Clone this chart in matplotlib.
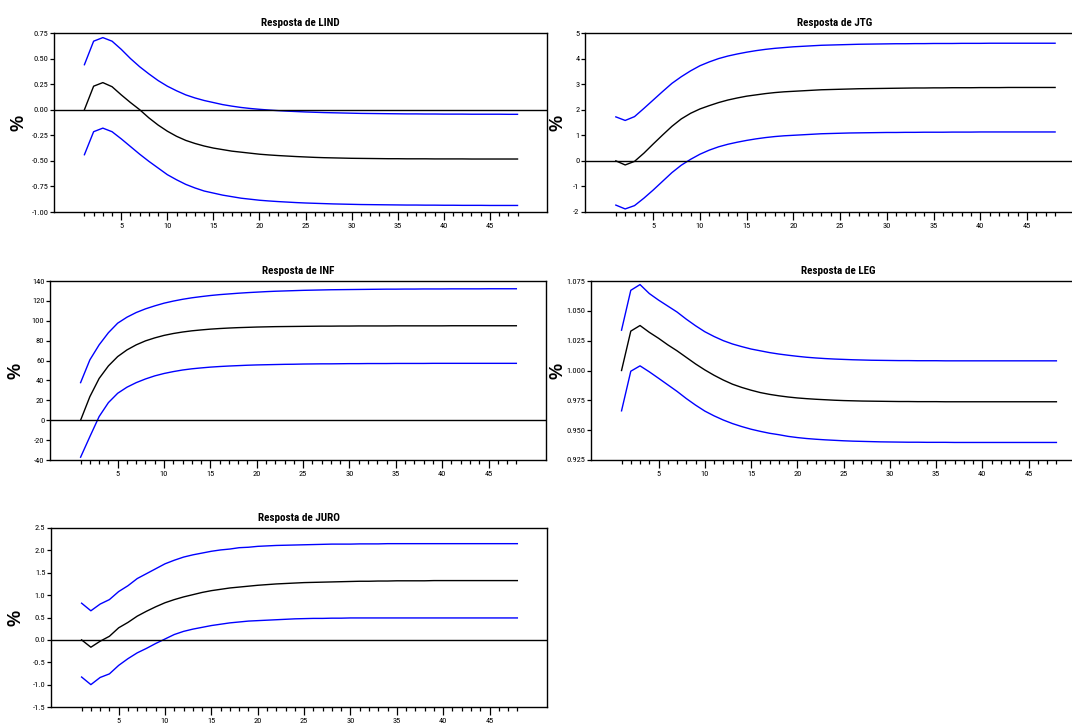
import numpy as np
import matplotlib
matplotlib.use('Agg')
import matplotlib.pyplot as plt
from matplotlib import font_manager
from matplotlib.ticker import MultipleLocator, FixedLocator, FormatStrFormatter

# fonte estreita, se existir
nomes = {f.name for f in font_manager.fontManager.ttflist}
estreitas = [n for n in ['Liberation Sans Narrow', 'DejaVu Sans Condensed', 'Roboto Condensed',
                         'Open Sans Condensed', 'Noto Sans Condensed'] if n in nomes]
plt.rcParams['font.family'] = estreitas + ['Liberation Sans', 'DejaVu Sans']

periodos = np.arange(1, 49)

# --- Resposta de LIND ---
lind_resp = [0.00, 0.23, 0.265, 0.225, 0.145, 0.07, 0.00, -0.08, -0.15, -0.21,
             -0.26, -0.30, -0.33, -0.355, -0.375, -0.39, -0.405, -0.415, -0.425, -0.435,
             -0.442, -0.448, -0.453, -0.458, -0.462, -0.466, -0.469, -0.471, -0.473, -0.475,
             -0.476, -0.477, -0.478, -0.479, -0.479, -0.480, -0.480, -0.480, -0.481, -0.481,
             -0.481, -0.481, -0.482, -0.482, -0.482, -0.482, -0.482, -0.482]
lind_sup = [0.44, 0.67, 0.705, 0.67, 0.59, 0.50, 0.42, 0.35, 0.285, 0.23,
            0.185, 0.145, 0.115, 0.09, 0.07, 0.05, 0.035, 0.022, 0.012, 0.004,
            -0.003, -0.009, -0.014, -0.018, -0.022, -0.025, -0.028, -0.030, -0.032, -0.034,
            -0.036, -0.037, -0.038, -0.039, -0.040, -0.041, -0.041, -0.042, -0.042, -0.043,
            -0.043, -0.043, -0.044, -0.044, -0.044, -0.044, -0.045, -0.045]
lind_inf = [-0.44, -0.215, -0.18, -0.215, -0.285, -0.36, -0.435, -0.505, -0.57, -0.635,
            -0.685, -0.73, -0.765, -0.795, -0.815, -0.835, -0.85, -0.865, -0.875, -0.885,
            -0.892, -0.898, -0.903, -0.908, -0.912, -0.915, -0.918, -0.921, -0.923, -0.925,
            -0.927, -0.928, -0.929, -0.930, -0.931, -0.932, -0.932, -0.933, -0.933, -0.934,
            -0.934, -0.935, -0.935, -0.935, -0.936, -0.936, -0.936, -0.936]

# --- Resposta de JTG ---
jtg_resp = [0.00, -0.16, -0.02, 0.30, 0.66, 1.01, 1.35, 1.64, 1.86, 2.03,
            2.16, 2.28, 2.38, 2.46, 2.53, 2.58, 2.63, 2.67, 2.70, 2.72,
            2.74, 2.76, 2.78, 2.79, 2.80, 2.81, 2.82, 2.825, 2.83, 2.835,
            2.84, 2.845, 2.85, 2.85, 2.855, 2.855, 2.86, 2.86, 2.86, 2.865,
            2.865, 2.865, 2.87, 2.87, 2.87, 2.87, 2.87, 2.87]
jtg_sup = [1.72, 1.58, 1.73, 2.05, 2.38, 2.71, 3.03, 3.29, 3.52, 3.72,
           3.87, 4.00, 4.10, 4.18, 4.25, 4.31, 4.36, 4.40, 4.43, 4.46,
           4.48, 4.50, 4.52, 4.53, 4.54, 4.55, 4.56, 4.565, 4.57, 4.575,
           4.58, 4.58, 4.585, 4.585, 4.59, 4.59, 4.59, 4.595, 4.595, 4.595,
           4.60, 4.60, 4.60, 4.60, 4.60, 4.60, 4.60, 4.60]
jtg_inf = [-1.73, -1.88, -1.75, -1.46, -1.14, -0.80, -0.46, -0.17, 0.06, 0.26,
           0.42, 0.55, 0.65, 0.73, 0.80, 0.86, 0.91, 0.95, 0.98, 1.00,
           1.02, 1.04, 1.06, 1.07, 1.08, 1.09, 1.095, 1.10, 1.105, 1.11,
           1.11, 1.115, 1.115, 1.12, 1.12, 1.12, 1.125, 1.125, 1.125, 1.13,
           1.13, 1.13, 1.13, 1.13, 1.13, 1.13, 1.13, 1.13]

# --- Resposta de INF ---
inf_resp = [0.0, 23.7, 42.0, 54.6, 64.0, 70.7, 75.8, 79.8, 82.8, 85.3,
            87.2, 88.7, 89.9, 90.8, 91.6, 92.2, 92.7, 93.1, 93.4, 93.7,
            93.9, 94.1, 94.2, 94.3, 94.4, 94.5, 94.6, 94.6, 94.7, 94.7,
            94.8, 94.8, 94.8, 94.8, 94.9, 94.9, 94.9, 94.9, 94.9, 94.9,
            95.0, 95.0, 95.0, 95.0, 95.0, 95.0, 95.0, 95.0]
inf_sup = [37.8, 60.7, 75.8, 88.0, 97.6, 103.6, 108.3, 112.0, 115.0, 117.7,
           119.8, 121.6, 123.1, 124.3, 125.4, 126.3, 127.0, 127.7, 128.3, 128.8,
           129.3, 129.7, 130.0, 130.3, 130.6, 130.8, 131.0, 131.2, 131.3, 131.4,
           131.5, 131.6, 131.7, 131.8, 131.8, 131.9, 131.9, 132.0, 132.0, 132.0,
           132.1, 132.1, 132.1, 132.1, 132.2, 132.2, 132.2, 132.2]
inf_inf = [-37.2, -16.5, 3.7, 17.7, 27.1, 33.2, 37.8, 41.5, 44.6, 47.0,
           48.9, 50.5, 51.7, 52.6, 53.4, 54.0, 54.5, 54.9, 55.3, 55.6,
           55.8, 56.0, 56.2, 56.3, 56.5, 56.6, 56.7, 56.7, 56.8, 56.9,
           56.9, 57.0, 57.0, 57.0, 57.1, 57.1, 57.1, 57.1, 57.2, 57.2,
           57.2, 57.2, 57.2, 57.2, 57.2, 57.2, 57.2, 57.2]

# --- Resposta de LEG ---
leg_resp = [1.000, 1.033, 1.0377, 1.032, 1.027, 1.0215, 1.0165, 1.011, 1.0055, 1.0005,
            0.996, 0.992, 0.9885, 0.9858, 0.9835, 0.9815, 0.980, 0.9788, 0.9778, 0.977,
            0.9764, 0.9759, 0.9755, 0.9751, 0.9748, 0.9746, 0.9744, 0.9743, 0.9742, 0.9741,
            0.9740, 0.9740, 0.9739, 0.9739, 0.9739, 0.9738, 0.9738, 0.9738, 0.9738, 0.9738,
            0.9738, 0.9738, 0.9738, 0.9738, 0.9738, 0.9738, 0.9738, 0.9738]
leg_sup = [1.0338, 1.0672, 1.0720, 1.0645, 1.0590, 1.0540, 1.0490, 1.0430, 1.0375, 1.0325,
           1.0285, 1.0250, 1.0222, 1.0200, 1.0180, 1.0165, 1.0150, 1.0138, 1.0128, 1.0119,
           1.0111, 1.0105, 1.0100, 1.0096, 1.0093, 1.0090, 1.0088, 1.0086, 1.0085, 1.0084,
           1.0083, 1.0083, 1.0082, 1.0082, 1.0082, 1.0081, 1.0081, 1.0081, 1.0081, 1.0081,
           1.0081, 1.0081, 1.0081, 1.0081, 1.0081, 1.0081, 1.0081, 1.0081]
leg_inf = [0.9662, 0.9994, 1.0039, 0.9989, 0.9935, 0.9880, 0.9825, 0.9765, 0.9710, 0.9660,
           0.9620, 0.9585, 0.9555, 0.9530, 0.9508, 0.9490, 0.9474, 0.9462, 0.9448, 0.9438,
           0.9430, 0.9424, 0.9419, 0.9415, 0.9411, 0.9408, 0.9406, 0.9404, 0.9402, 0.9401,
           0.9400, 0.9399, 0.9399, 0.9398, 0.9398, 0.9398, 0.9397, 0.9397, 0.9397, 0.9397,
           0.9397, 0.9397, 0.9397, 0.9397, 0.9397, 0.9397, 0.9397, 0.9397]

# --- Resposta de JURO ---
juro_resp = [0.00, -0.164, -0.03, 0.08, 0.27, 0.39, 0.53, 0.64, 0.74, 0.83,
             0.90, 0.96, 1.01, 1.06, 1.10, 1.13, 1.16, 1.18, 1.20, 1.22,
             1.235, 1.25, 1.26, 1.27, 1.28, 1.285, 1.29, 1.295, 1.30, 1.305,
             1.31, 1.31, 1.315, 1.315, 1.32, 1.32, 1.32, 1.32, 1.325, 1.325,
             1.325, 1.325, 1.325, 1.325, 1.325, 1.325, 1.325, 1.325]
juro_sup = [0.82, 0.65, 0.80, 0.90, 1.08, 1.21, 1.37, 1.48, 1.59, 1.70,
            1.78, 1.85, 1.90, 1.94, 1.98, 2.01, 2.03, 2.06, 2.07, 2.09,
            2.10, 2.11, 2.115, 2.12, 2.125, 2.13, 2.135, 2.14, 2.14, 2.14,
            2.145, 2.145, 2.145, 2.15, 2.15, 2.15, 2.15, 2.15, 2.15, 2.15,
            2.15, 2.15, 2.15, 2.15, 2.15, 2.15, 2.15, 2.15]
juro_inf = [-0.83, -1.00, -0.84, -0.76, -0.57, -0.42, -0.29, -0.19, -0.08, 0.02,
            0.12, 0.19, 0.24, 0.28, 0.32, 0.35, 0.38, 0.40, 0.42, 0.43,
            0.44, 0.45, 0.46, 0.47, 0.475, 0.48, 0.48, 0.485, 0.485, 0.49,
            0.49, 0.49, 0.49, 0.49, 0.49, 0.49, 0.49, 0.49, 0.49, 0.49,
            0.49, 0.49, 0.49, 0.49, 0.49, 0.49, 0.49, 0.49]

W, H = 1072, 724
fig = plt.figure(figsize=(W / 100, H / 100), dpi=100)


def painel(rect_px, pos_pct, titulo, resp, sup, inf, ylim, ystep, fmt, zero=True):
    # rect_px = (esquerda, topo, largura, altura) em pixels
    x0, top, w, h = rect_px
    ax = fig.add_axes([x0 / W, 1 - (top + h) / H, w / W, h / H])
    ax.plot(periodos, sup, color='#0000ff', linewidth=1.0)
    ax.plot(periodos, inf, color='#0000ff', linewidth=1.0)
    ax.plot(periodos, resp, color='black', linewidth=1.0)
    if zero:
        ax.axhline(0, color='black', linewidth=1.0)
    ax.set_xlim(-2.3, 51.2)
    ax.set_ylim(*ylim)
    ax.yaxis.set_major_locator(MultipleLocator(ystep))
    ax.yaxis.set_major_formatter(FormatStrFormatter(fmt))
    ax.xaxis.set_major_locator(FixedLocator([5, 10, 15, 20, 25, 30, 35, 40, 45]))
    ax.xaxis.set_minor_locator(FixedLocator([p for p in periodos if p % 5 != 0]))
    ax.tick_params(axis='x', which='major', length=6, width=0.9, labelsize=6, pad=2)
    ax.tick_params(axis='x', which='minor', length=3, width=0.9)
    ax.tick_params(axis='y', length=3, width=0.9, labelsize=6, pad=1)
    for s in ax.spines.values():
        s.set_linewidth(1.0)
    ax.set_title(titulo, fontsize=8, fontweight='bold', pad=5)
    fig.text(pos_pct / W, 1 - (top + h / 2) / H, '%', rotation=90,
             fontsize=13, fontweight='bold', family=['Liberation Sans', 'DejaVu Sans'],
             ha='center', va='center')
    return ax


painel((54, 33, 493, 179), 19, 'Resposta de LIND', lind_resp, lind_sup, lind_inf,
       (-1.0, 0.75), 0.25, '%.2f')
painel((585, 33, 500, 179), 558, 'Resposta de JTG', jtg_resp, jtg_sup, jtg_inf,
       (-2, 5), 1, '%d')
painel((50, 281, 496, 179), 16, 'Resposta de INF', inf_resp, inf_sup, inf_inf,
       (-40, 140), 20, '%d')
painel((591, 281, 495, 179), 558, 'Resposta de LEG', leg_resp, leg_sup, leg_inf,
       (0.925, 1.075), 0.025, '%.3f', zero=False)
painel((51, 528, 496, 179), 16, 'Resposta de JURO', juro_resp, juro_sup, juro_inf,
       (-1.5, 2.5), 0.5, '%.1f')

fig.savefig('out.png', dpi=100)
